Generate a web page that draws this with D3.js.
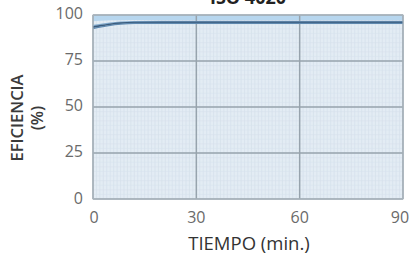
<!DOCTYPE html>
<html>
<head>
<meta charset="utf-8">
<script src="https://cdn.jsdelivr.net/npm/d3@7"></script>
<style>
  body { margin: 0; background: #fff; }
  svg text { font-family: 'Open Sans', 'Noto Sans', sans-serif; }
</style>
</head>
<body>
<svg id="chart" width="410" height="260"></svg>
<script>
// data
const xTicks = [0, 30, 60, 90]
const yTicks = [0, 25, 50, 75, 100]
const times = [0, 2, 5, 8, 12, 20, 30, 45, 60, 75, 90]
const bandTop = [100, 100, 100, 100, 100, 100, 100, 100, 100, 100, 100]
const bandLow = [96.6, 96.9, 97.1, 97.2, 97.3, 97.3, 97.3, 97.3, 97.3, 97.3, 97.3]
const lineA = [94.2, 94.8, 95.6, 96.1, 96.4, 96.5, 96.5, 96.5, 96.5, 96.5, 96.5]
const lineB = [93.4, 94.1, 95.0, 95.6, 95.9, 96.0, 96.0, 96.0, 96.0, 96.0, 96.0]
const lineC = [92.6, 93.4, 94.4, 95.0, 95.4, 95.5, 95.5, 95.5, 95.5, 95.5, 95.5]

const svg = d3.select('#chart')
const pLeft = 93, pRight = 403, pTop = 15, pBottom = 199

const x = d3.scaleLinear().domain([0, 90]).range([pLeft, pRight])
const y = d3.scaleLinear().domain([0, 100]).range([pBottom, pTop])

// plot background
svg.append('rect')
  .attr('x', pLeft).attr('y', pTop)
  .attr('width', pRight - pLeft).attr('height', pBottom - pTop)
  .attr('fill', '#e3ecf4')

// fine minor grid
const g = svg.append('g')
d3.range(0, 91, 1).forEach(t => {
  g.append('line')
    .attr('x1', x(t)).attr('x2', x(t))
    .attr('y1', pTop).attr('y2', pBottom)
    .attr('stroke', '#d2deea').attr('stroke-width', 0.6)
})
d3.range(0, 101, 2.5).forEach(v => {
  g.append('line')
    .attr('x1', pLeft).attr('x2', pRight)
    .attr('y1', y(v)).attr('y2', y(v))
    .attr('stroke', '#d6e1ec').attr('stroke-width', 0.5)
})

// upper band
const area = d3.area()
  .x((d, i) => x(times[i]))
  .y0((d, i) => y(bandLow[i]))
  .y1(d => y(d))
  .curve(d3.curveMonotoneX)
svg.append('path')
  .attr('d', area(bandTop))
  .attr('fill', '#b7d6ee')

// major grid
xTicks.forEach(t => {
  svg.append('line')
    .attr('x1', x(t)).attr('x2', x(t))
    .attr('y1', pTop).attr('y2', pBottom)
    .attr('stroke', '#97a3ad').attr('stroke-width', 1.5)
})
yTicks.forEach(v => {
  svg.append('line')
    .attr('x1', pLeft).attr('x2', pRight)
    .attr('y1', y(v)).attr('y2', y(v))
    .attr('stroke', '#97a3ad').attr('stroke-width', 1.5)
})

// efficiency lines
const line = d3.line()
  .x((d, i) => x(times[i]))
  .y(d => y(d))
  .curve(d3.curveMonotoneX)
const series = [
  { values: lineA, color: '#80a9cd', width: 1.4 },
  { values: lineB, color: '#3a5b7c', width: 1.6 },
  { values: lineC, color: '#5f88ae', width: 1.2 }
]
series.forEach(s => {
  svg.append('path')
    .attr('d', line(s.values))
    .attr('fill', 'none')
    .attr('stroke', s.color)
    .attr('stroke-width', s.width)
})

// frame
svg.append('rect')
  .attr('x', pLeft).attr('y', pTop)
  .attr('width', pRight - pLeft).attr('height', pBottom - pTop)
  .attr('fill', 'none')
  .attr('stroke', '#adb7bf').attr('stroke-width', 1)

// tick labels
yTicks.forEach(v => {
  svg.append('text')
    .attr('x', 83).attr('y', y(v) + (v === 0 ? 1 : 0))
    .attr('text-anchor', 'end')
    .attr('dominant-baseline', 'middle')
    .attr('font-size', 16)
    .attr('fill', '#6a6a6a')
    .text(v)
})
xTicks.forEach(t => {
  svg.append('text')
    .attr('x', Math.min(x(t) + (t === 0 ? 1 : 0), 400)).attr('y', 223)
    .attr('text-anchor', 'middle')
    .attr('font-size', 16)
    .attr('fill', '#6a6a6a')
    .text(t)
})

// axis titles
svg.append('text')
  .attr('x', 249).attr('y', 250)
  .attr('text-anchor', 'middle')
  .attr('font-size', 18.5)
  .attr('fill', '#333')
  .text('TIEMPO (min.)')

const yt = svg.append('text')
  .attr('transform', 'translate(23,118) rotate(-90)')
  .attr('text-anchor', 'middle')
  .attr('font-size', 16.5)
  .attr('font-weight', 600)
  .attr('fill', '#3a3a3a')
yt.append('tspan').attr('x', 0).attr('dy', 0).text('EFICIENCIA')
yt.append('tspan').attr('x', 0).attr('dy', 20).text('(%)')

// title, cut by the top edge as in the reference
svg.append('text')
  .attr('x', 248).attr('y', 4)
  .attr('text-anchor', 'middle')
  .attr('font-size', 18)
  .attr('font-weight', 'bold')
  .attr('fill', '#222')
  .text('ISO 4020')
</script>
</body>
</html>
